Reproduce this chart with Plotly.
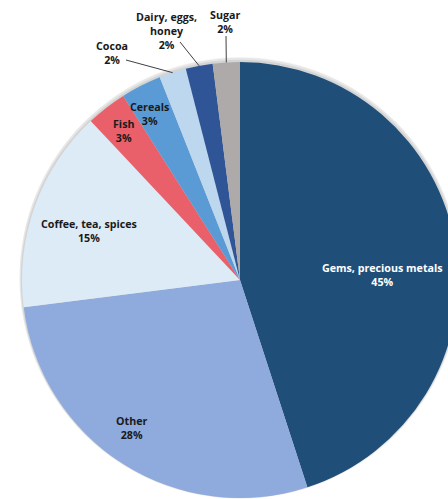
import math
import plotly.graph_objects as go

# ---- data ----
categories = ["Gems, precious metals", "Other", "Coffee, tea, spices", "Fish",
              "Cereals", "Cocoa", "Dairy, eggs,<br>honey", "Sugar"]
shares = [45, 28, 15, 3, 3, 2, 2, 2]
colors = ["#1F4E79", "#8FAADC", "#DDEBF7", "#E9606A",
          "#5B9BD5", "#BDD7EE", "#2F5597", "#AEAAAA"]
label_colors = ["#FFFFFF", "#1a1a1a", "#1a1a1a", "#1a1a1a",
                "#1a1a1a", "#1a1a1a", "#1a1a1a", "#1a1a1a"]
# label block centres (pixels) and leader-line outer ends (None = no leader)
label_pos = [(382, 275), (131, 428), (89, 231), (123, 131),
             (149, 114), (112, 53), (166, 31), (225, 22)]
leader_ends = [None, None, None, None, None, (126, 60), (180, 42), (226, 36)]

W, H = 464, 499
CX, CY, R = 240, 280, 218


def dom(cx, cy, r):
    return dict(x=[(cx - r) / W, (cx + r) / W],
                y=[(H - (cy + r)) / H, (H - (cy - r)) / H])


fig = go.Figure()
# soft shadow (layered)
for (dr, alpha) in [(4.0, 0.04), (2.5, 0.06), (1.2, 0.08)]:
    fig.add_trace(go.Pie(values=[1], marker=dict(colors=[f"rgba(0,0,0,{alpha})"]),
                         textinfo="none", hoverinfo="skip", sort=False,
                         showlegend=False,
                         domain=dom(CX, CY - dr / 2 - 0.5, R + dr / 2 + 0.5 if dr > 3 else R + dr)))
fig.add_trace(go.Pie(labels=categories, values=shares, sort=False,
                     direction="clockwise", rotation=0,
                     marker=dict(colors=colors, line=dict(width=0)),
                     textinfo="none", hoverinfo="skip", showlegend=False,
                     domain=dom(CX, CY, R)))

annotations = []
shapes = []
total = sum(shares)
cum = 0
for cat, v, col, (px, py), end in zip(categories, shares, label_colors,
                                       label_pos, leader_ends):
    mid = (cum + v / 2) / total * 2 * math.pi
    cum += v
    annotations.append(dict(
        text=f"{cat}<br>{v}%", x=px / W, y=1 - py / H, xref="paper", yref="paper",
        xanchor="center", yanchor="middle", showarrow=False,
        font=dict(family="Open Sans", size=10.7, color=col, weight=700)))
    if end is not None:
        ex, ey = CX + R * math.sin(mid), CY - R * math.cos(mid)
        shapes.append(dict(type="line", xref="paper", yref="paper",
                           x0=end[0] / W, y0=1 - end[1] / H,
                           x1=ex / W, y1=1 - ey / H,
                           line=dict(color="#404040", width=1)))

fig.update_layout(width=W, height=H, margin=dict(l=0, r=0, t=0, b=0),
                  paper_bgcolor="white", plot_bgcolor="white",
                  annotations=annotations, shapes=shapes)

fig.write_html("out.html", config={"displayModeBar": False},
               post_script="document.documentElement.style.overflow='hidden';"
                           "document.body.style.overflow='hidden';"
                           "document.body.style.margin='0';")
